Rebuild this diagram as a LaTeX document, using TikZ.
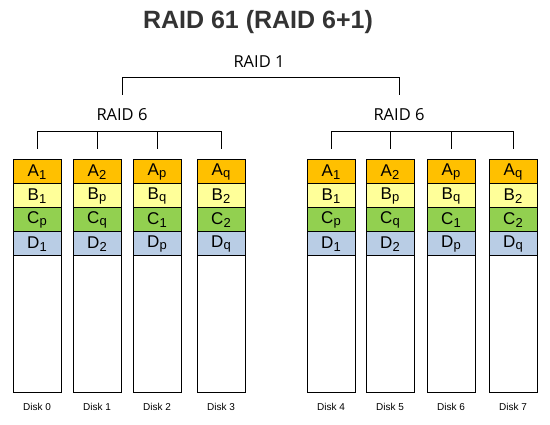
\documentclass[tikz,border=0pt]{standalone}
\usepackage{fontspec}
\setmainfont{Liberation Sans}
\newfontfamily\levelfont{Open Sans}
\usetikzlibrary{positioning}
\definecolor{rowA}{HTML}{FFC000}
\definecolor{rowB}{HTML}{FFFF99}
\definecolor{rowC}{HTML}{92D050}
\definecolor{rowD}{HTML}{B9CDE5}
\newcommand{\lo}[1]{\raisebox{-2.5pt}{\fontsize{13}{13}\selectfont #1}}

\begin{document}
\begin{tikzpicture}[x=1pt,y=1pt,
  cellbox/.style={draw, line width=1pt, outer sep=0pt, inner sep=0pt,
    minimum width=48pt, minimum height=24pt, font=\fontsize{17}{17}\selectfont},
  diskbody/.style={draw, line width=1pt, outer sep=0pt, inner sep=0pt,
    minimum width=48pt, minimum height=136pt},
  levellabel/.style={inner sep=0pt, font=\levelfont\fontsize{16.5}{16.5}\selectfont},
  disklabel/.style={inner sep=0pt, font=\fontsize{10}{10}\selectfont}]
\useasboundingbox (0,0) rectangle (550,424);
\node[font=\bfseries\fontsize{25}{25}\selectfont, text=black!80] (title) at (258,402) {RAID 61 (RAID 6+1)};

% levels
\node[levellabel] (raid1) at (259,362) {RAID 1};
\node[levellabel] (r6l) at (122,309) {RAID 6};
\node[levellabel] (r6r) at (399,309) {RAID 6};
\coordinate (join) at ([yshift=-9pt]raid1.south);
\draw[line width=1pt] ([yshift=14pt]r6l.north) |- (join) -| ([yshift=14pt]r6r.north);

% disks
\foreach \i/\x/\pa/\pb/\pc/\pd in {0/37/1/1/p/1, 1/97/2/p/q/2, 2/157/p/q/1/p, 3/221/q/2/2/q,
    4/331/1/1/p/1, 5/390/2/p/q/2, 6/451/p/q/1/p, 7/513/q/2/2/q}
{
  \node[cellbox, fill=rowA] (a\i) at (\x,252) {A\lo{\pa}};
  \node[cellbox, fill=rowB, below=0pt of a\i] (b\i) {B\lo{\pb}};
  \node[cellbox, fill=rowC, below=0pt of b\i] (c\i) {C\lo{\pc}};
  \node[cellbox, fill=rowD, below=0pt of c\i] (d\i) {D\lo{\pd}};
  \node[diskbody, below=0pt of d\i] (e\i) {};
  \node[disklabel, below=11pt of e\i] (n\i) {Disk \i};
}

% RAID 6 brackets
\draw[line width=1pt] ([yshift=11pt]a0.north) -- ++(0,17) -| ([yshift=11pt]a3.north);
\draw[line width=1pt] ([yshift=11pt]a1.north) -- ++(0,17);
\draw[line width=1pt] ([yshift=11pt]a2.north) -- ++(0,17);
\draw[line width=1pt] ([yshift=11pt]a4.north) -- ++(0,17) -| ([yshift=11pt]a7.north);
\draw[line width=1pt] ([yshift=11pt]a5.north) -- ++(0,17);
\draw[line width=1pt] ([yshift=11pt]a6.north) -- ++(0,17);
\end{tikzpicture}
\end{document}
